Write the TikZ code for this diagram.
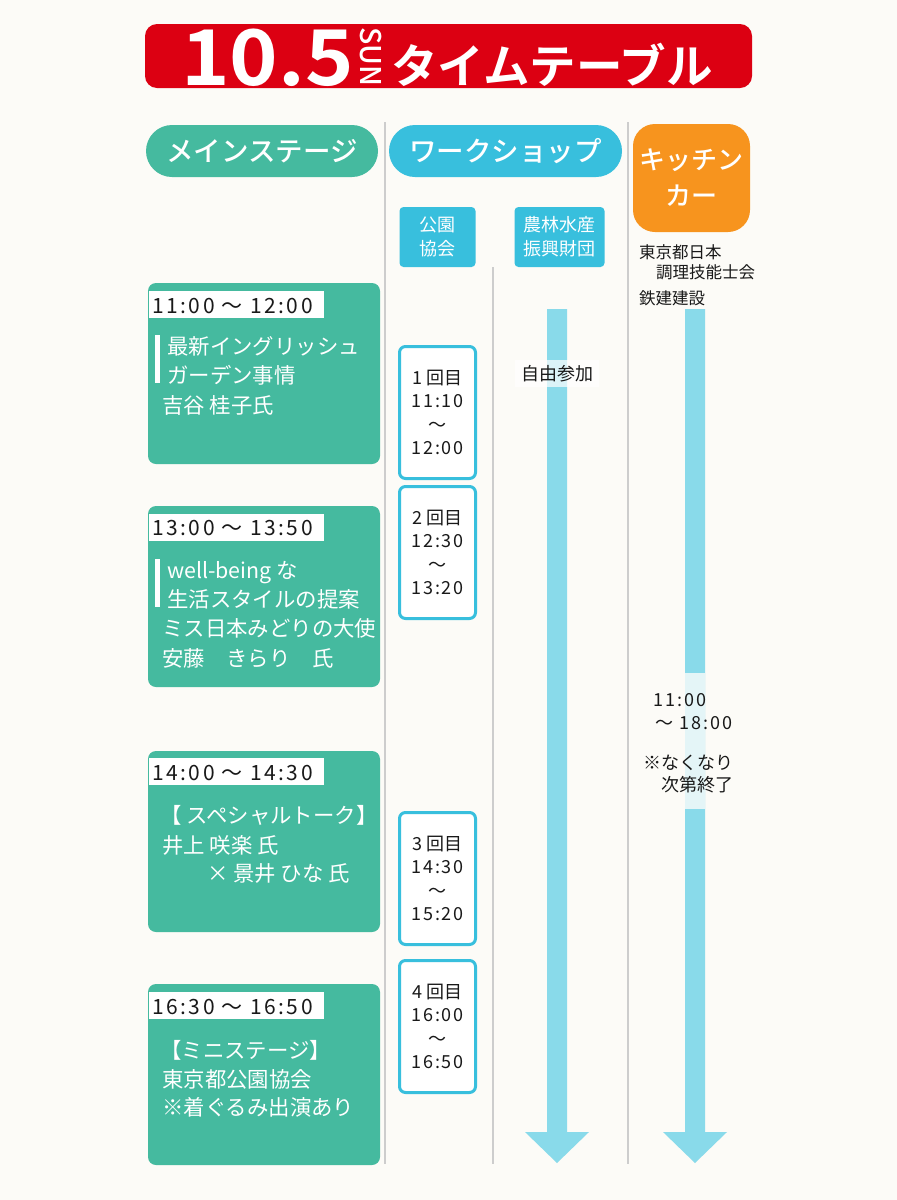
\documentclass[tikz,border=0pt]{standalone}
\usepackage{fontspec}
\setmainfont{Noto Sans CJK JP}[BoldFont={Noto Sans CJK JP Bold}]
\newfontfamily\medfont{Noto Sans CJK JP Medium}
\newfontfamily\numfont{Noto Sans CJK JP}[LetterSpace=12]
\newfontfamily\wsnumfont{Noto Sans CJK JP}[LetterSpace=11]
\definecolor{bg}{RGB}{252,251,247}
\definecolor{tred}{RGB}{220,0,18}
\definecolor{mgreen}{RGB}{69,186,159}
\definecolor{wblue}{RGB}{56,191,221}
\definecolor{arrowblue}{RGB}{137,218,234}
\definecolor{kor}{RGB}{247,148,30}
\definecolor{sepgray}{RGB}{205,205,205}
\definecolor{paleblue}{RGB}{228,245,247}
\definecolor{ink}{RGB}{25,25,25}
\newcommand\fs[2]{\fontsize{#1}{#2}\selectfont}
\tikzset{
  txt/.style 2 args={inner sep=0pt, text height=#1, text depth=#2},
  pill/.style={fill=#1, rounded corners=26, minimum width=232, minimum height=52, text=white, font=\medfont\fs{27.5}{27.5}, inner sep=0pt},
  subhead/.style={fill=wblue, rounded corners=4, minimum height=60, text=white, font=\fs{18}{24}, align=center, inner sep=0pt},
  mainbox/.style={fill=mgreen, rounded corners=8},
  timelabel/.style={fill=white},
  timetxt/.style={txt={18.5pt}{2.5pt}, anchor=west, text=ink, font=\numfont\fs{21}{21}},
  bodytxt/.style={txt={18.8pt}{2.6pt}, anchor=west, text=white, font=\fs{21.4}{21.4}},
  bar/.style={fill=white},
  wsbox/.style={draw=wblue, line width=3pt, fill=white, rounded corners=6, minimum width=76, minimum height=132, align=center, text=ink, font=\fs{18}{23.3}, inner sep=0pt},
  ktxt/.style={txt={14.5pt}{2pt}, anchor=west, text=ink, font=\fs{16.5}{16.5}},
  kmid/.style={txt={15.8pt}{2.2pt}, anchor=west, text=ink, font=\fs{18}{18}},
  sep/.style={draw=sepgray, line width=1.6pt},
  arr/.style={fill=arrowblue},
}
\begin{document}
\begin{tikzpicture}[x=1pt,y=-1pt]
\useasboundingbox (0,0) rectangle (897,1200);
\fill[bg] (0,0) rectangle (897,1200);

% title
\fill[tred, rounded corners=12] (145,24) rectangle (752,88);
\node[anchor=base west, inner sep=0pt, xscale=1.07, text=white, font=\fs{77}{77}\bfseries] (t105) at (181,85) {10.5};
\node[rotate=-90, inner sep=0pt, text=white, font=\medfont\fs{28.5}{28.5}] (tsun) at (370.5,57) {SUN};
\node[txt={40.9pt}{5.6pt}, anchor=west, text=white, font=\fs{46.5}{46.5}\bfseries] (ttitle) at (391,66) {タイムテーブル};

% column headers
\node[pill=mgreen] (hmain) at (262,151) {メインステージ};
\node[pill=wblue, minimum width=233] (hws) at (505.5,151) {ワークショップ};
\node[fill=kor, rounded corners=22, minimum width=117, minimum height=108, text=white, font=\medfont\fs{26}{36}, align=center, inner sep=0pt] (hkit) at (691.5,178) {キッチン\\カー};

% separators
\coordinate (s1t) at (385,122); \coordinate (s1b) at (385,1164);
\coordinate (s2t) at (628,122); \coordinate (s2b) at (628,1164);
\coordinate (s3t) at (493,267); \coordinate (s3b) at (493,1164);
\draw[sep] (s1t) -- (s1b);
\draw[sep] (s2t) -- (s2b);
\draw[sep] (s3t) -- (s3b);

% workshop sub headers
\node[subhead, minimum width=76] (sh1) at (437.5,237) {公園\\協会};
\node[subhead, minimum width=90] (sh2) at (559.5,237) {農林水産\\振興財団};

% kitchen organisers
\node[ktxt] (k1) at (639,252) {東京都日本};
\node[ktxt] (k2) at (656,272) {調理技能士会};
\node[ktxt] (k3) at (639,298) {鉄建建設};

% arrows
\fill[arr] (547,309) -- (567,309) -- (567,1132) -- (589,1132) -- (557,1163) -- (525,1132) -- (547,1132) -- cycle;
\fill[arr] (685,309) -- (705,309) -- (705,1132) -- (727,1132) -- (695,1163) -- (663,1132) -- (685,1132) -- cycle;
\fill[paleblue] (685,673) rectangle (705,809);
\fill[white, fill opacity=0.7] (515,360) rectangle (599,387);
\node[txt={15.8pt}{2.2pt}, text=ink, font=\fs{18}{18}] (free) at (557,374) {自由参加};

% kitchen hours
\node[kmid, font=\wsnumfont\fs{18}{18}] (kh1) at (653,700) {11:00};
\node[kmid] (kh2) at (655,723) {～\hspace{6pt}{\wsnumfont 18:00}};
\node[kmid] (kn1) at (643,763) {※なくなり};
\node[kmid] (kn2) at (661,785) {次第終了};

% main stage boxes
\fill[mainbox] (148,283) rectangle (380,464);
\fill[timelabel] (149,291) rectangle (324,318);
\node[timetxt] (m1t) at (152,305) {11:00 ～ 12:00};
\fill[bar] (155,335) rectangle (160,383);
\node[bodytxt] (m1a) at (167,346) {最新イングリッシュ};
\node[bodytxt] (m1b) at (167,375) {ガーデン事情};
\node[bodytxt] (m1c) at (162,405) {吉谷 桂子氏};

\fill[mainbox] (148,506) rectangle (380,687);
\fill[timelabel] (149,514) rectangle (324,541);
\node[timetxt] (m2t) at (152,527.5) {13:00 ～ 13:50};
\fill[bar] (155,559) rectangle (160,607);
\node[bodytxt] (m2a) at (167,570) {well-being な};
\node[bodytxt] (m2b) at (167,599) {生活スタイルの提案};
\node[bodytxt] (m2c) at (162,628) {ミス日本みどりの大使};
\node[bodytxt] (m2d) at (162,658) {安藤　きらり　氏};

\fill[mainbox] (148,751) rectangle (380,932);
\fill[timelabel] (149,758) rectangle (324,785);
\node[timetxt] (m3t) at (152,772) {14:00 ～ 14:30};
\node[bodytxt] (m3a) at (160,815) {【 スペシャルトーク】};
\node[bodytxt] (m3b) at (162,845) {井上 咲楽 氏};
\node[bodytxt] (m3c) at (207,873) {× 景井 ひな 氏};

\fill[mainbox] (148,984) rectangle (380,1165);
\fill[timelabel] (149,992) rectangle (324,1019);
\node[timetxt] (m4t) at (152,1006) {16:30 ～ 16:50};
\node[bodytxt] (m4a) at (160,1050) {【ミニステージ】};
\node[bodytxt] (m4b) at (162,1079) {東京都公園協会};
\node[bodytxt] (m4c) at (162,1107) {※着ぐるみ出演あり};

% workshop sessions
\node[wsbox] (w1) at (437.5,412.5) {1\hspace{5pt}回目\\{\wsnumfont 11:10}\\～\\{\wsnumfont 12:00}};
\node[wsbox] (w2) at (437.5,552.5) {2\hspace{5pt}回目\\{\wsnumfont 12:30}\\～\\{\wsnumfont 13:20}};
\node[wsbox] (w3) at (437.5,878.5) {3\hspace{5pt}回目\\{\wsnumfont 14:30}\\～\\{\wsnumfont 15:20}};
\node[wsbox] (w4) at (437.5,1026.5) {4\hspace{5pt}回目\\{\wsnumfont 16:00}\\～\\{\wsnumfont 16:50}};
\end{tikzpicture}
\end{document}
